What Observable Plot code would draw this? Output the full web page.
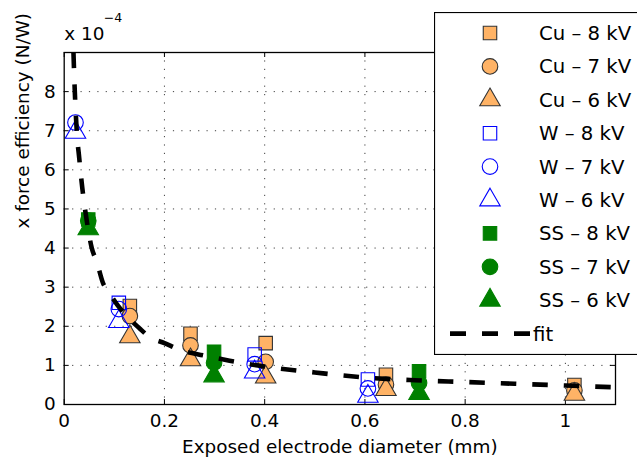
<!DOCTYPE html>
<html><head><meta charset="utf-8">
<script src="https://cdn.jsdelivr.net/npm/d3@7"></script>
<script src="https://cdn.jsdelivr.net/npm/@observablehq/plot@0.6"></script>
<style>
body{margin:0;overflow:hidden;background:#fff;}
#wrap{position:relative;width:637px;height:462px;overflow:hidden;font-family:"DejaVu Sans",sans-serif;}
#legend{position:absolute;left:434px;top:12px;}
</style></head><body><div id="wrap"></div>
<script>
// ---- data ----
const xTicks = [0, 0.2, 0.4, 0.6, 0.8, 1];
const yTicks = [0, 1, 2, 3, 4, 5, 6, 7, 8];
const xTickLabels = ["0", "0.2", "0.4", "0.6", "0.8", "1"];
const yTickLabels = ["0", "1", "2", "3", "4", "5", "6", "7", "8"];
const xLabel = "Exposed electrode diameter (mm)";
const yLabel = "x force efficiency (N/W)";
const expBase = "x 10";
const expPower = "\u22124";

const cuX = [0.131, 0.252, 0.402, 0.642, 1.018];
const cu8 = [2.52, 1.81, 1.57, 0.76, 0.50];
const cu7 = [2.26, 1.51, 1.09, 0.51, 0.36];
const cu6 = [1.73, 1.14, 0.70, 0.38, 0.26];

const wX = [0.0225, 0.109, 0.380, 0.606];
const w8 = [null, 2.60, 1.28, 0.64];
const w7 = [7.21, 2.44, 1.03, 0.41];
const w6 = [6.96, 2.12, 0.83, 0.21];

const ssX = [0.048, 0.299, 0.708];
const ss8 = [4.73, 1.35, 0.85];
const ss7 = [4.70, 1.07, 0.55];
const ss6 = [4.49, 0.73, 0.28];

const fitX = [0.0185, 0.02, 0.025, 0.03, 0.036, 0.045, 0.055, 0.065, 0.077, 0.09, 0.106, 0.125, 0.15, 0.17, 0.2, 0.23, 0.28, 0.33, 0.4, 0.5, 0.6, 0.7, 0.8, 0.9, 1.0, 1.1];
const fitY = [9.0, 8.4, 7.0, 6.3, 5.55, 4.7, 4.0, 3.65, 3.12, 2.85, 2.55, 2.26, 1.95, 1.73, 1.57, 1.4, 1.25, 1.12, 0.97, 0.82, 0.69, 0.62, 0.575, 0.53, 0.485, 0.44];

const legendNames = ["Cu \u2013 8 kV", "Cu \u2013 7 kV", "Cu \u2013 6 kV", "W \u2013 8 kV", "W \u2013 7 kV", "W \u2013 6 kV", "SS \u2013 8 kV", "SS \u2013 7 kV", "SS \u2013 6 kV", "fit"];

// ---- styles ----
const cuFill = "#ffb366", cuStroke = "#333333";
const wStroke = "#0000ff";
const ssColor = "#008000";
const FONT = "DejaVu Sans";
const sizes = {square: 7.6, circle: 7.8, triangle: 7.6};
const styleOf = [
  {sym: "square", fill: cuFill, stroke: cuStroke},
  {sym: "circle", fill: cuFill, stroke: cuStroke},
  {sym: "triangle", fill: cuFill, stroke: cuStroke},
  {sym: "square", fill: "none", stroke: wStroke},
  {sym: "circle", fill: "none", stroke: wStroke},
  {sym: "triangle", fill: "none", stroke: wStroke},
  {sym: "square", fill: ssColor, stroke: ssColor},
  {sym: "circle", fill: ssColor, stroke: ssColor},
  {sym: "triangle", fill: ssColor, stroke: ssColor}
];

const rows = (xs, ys) => xs.map((x, i) => ({x, y: ys[i]})).filter(d => d.y != null);
const seriesData = [
  rows(cuX, cu8), rows(cuX, cu7), rows(cuX, cu6),
  rows(wX, w8), rows(wX, w7), rows(wX, w6),
  rows(ssX, ss8), rows(ssX, ss7), rows(ssX, ss6)
];
const fitData = fitX.map((x, i) => ({x, y: fitY[i]}));

const W = 637, H = 462, mL = 63.7, mR = 22, mT = 52, mB = 58;
const fw = W - mL - mR, fh = H - mT - mB;

const dotMarks = seriesData.map((data, k) => {
  const s = styleOf[k];
  return Plot.dot(data, {x: "x", y: "y", symbol: s.sym, r: sizes[s.sym], fill: s.fill, stroke: s.stroke, strokeWidth: 1.1});
});

const chart = Plot.plot({
  width: W, height: H,
  marginLeft: mL, marginRight: mR, marginTop: mT, marginBottom: mB,
  style: {background: "#fff", fontFamily: FONT},
  x: {domain: [0, 1.1], axis: null},
  y: {domain: [0, 9], axis: null},
  marks: [
    // dotted grid
    Plot.ruleX(xTicks.slice(1), {stroke: "#000", strokeOpacity: 0.75, strokeDasharray: "1.2,7.2"}),
    Plot.ruleY(yTicks.slice(1), {stroke: "#000", strokeOpacity: 0.75, strokeDasharray: "1.2,7.2"}),
    // inward ticks
    Plot.ruleX(xTicks, {insetTop: fh - 5, stroke: "#000"}),
    Plot.ruleX(xTicks, {insetBottom: fh - 5, stroke: "#000"}),
    Plot.ruleY(yTicks, {insetRight: fw - 5, stroke: "#000"}),
    Plot.ruleY(yTicks, {insetLeft: fw - 5, stroke: "#000"}),
    ...dotMarks,
    Plot.line(fitData, {x: "x", y: "y", curve: "monotone-x", stroke: "#000", strokeWidth: 4.6, strokeDasharray: "15.5,16", strokeLinecap: "butt", clip: true}),
    Plot.frame({stroke: "#000", strokeWidth: 1.3}),
    // tick labels
    Plot.text(xTicks, {x: d => d, frameAnchor: "bottom", dy: 22, text: (d, i) => xTickLabels[i], fontSize: 18.4, fill: "#000"}),
    Plot.text(yTicks, {y: d => d, frameAnchor: "left", dx: -8.5, textAnchor: "end", text: (d, i) => yTickLabels[i], fontSize: 18.4, fill: "#000"}),
    // axis titles
    Plot.text([xLabel], {frameAnchor: "bottom", dy: 48, fontSize: 18.4, fill: "#000"}),
    Plot.text([yLabel], {frameAnchor: "left", dx: -41, rotate: -90, fontSize: 18.4, fill: "#000"}),
    Plot.text([expBase], {frameAnchor: "top-left", textAnchor: "start", lineAnchor: "bottom", dy: -13, fontSize: 18.4, fill: "#000"}),
    Plot.text([expPower], {frameAnchor: "top-left", textAnchor: "start", lineAnchor: "bottom", dx: 39.6, dy: -31, fontSize: 12.5, fill: "#000"})
  ]
});

const wrap = document.getElementById("wrap");
wrap.appendChild(chart);

// ---- legend (overlay, clipped by the window on the right) ----
const lw = 240, lh = 343;
const lsvg = d3.create("svg").attr("id", "legend").attr("width", lw).attr("height", lh)
  .style("position", "absolute").style("left", "434px").style("top", "12px");
lsvg.append("rect").attr("x", 0.5).attr("y", 0.5).attr("width", lw).attr("height", lh - 1)
  .attr("fill", "#fff").attr("stroke", "#000").attr("stroke-width", 1.2);
const symType = {square: d3.symbolSquare, circle: d3.symbolCircle, triangle: d3.symbolTriangle};
legendNames.forEach((name, i) => {
  const cy = 21 + i * 33.4;
  if (i < 9) {
    const s = styleOf[i];
    const r = sizes[s.sym];
    lsvg.append("path").attr("transform", `translate(56,${cy})`)
      .attr("d", d3.symbol(symType[s.sym], Math.PI * r * r)())
      .attr("fill", s.fill).attr("stroke", s.stroke).attr("stroke-width", 1.1);
  } else {
    lsvg.append("line").attr("x1", 16).attr("x2", 96).attr("y1", cy).attr("y2", cy)
      .attr("stroke", "#000").attr("stroke-width", 4.6).attr("stroke-dasharray", "16,16");
  }
  lsvg.append("text").attr("x", i < 9 ? 105 : 99).attr("y", cy).attr("dy", "0.36em")
    .attr("font-family", FONT).attr("font-size", 19.7).attr("fill", "#000").text(name);
});
wrap.appendChild(lsvg.node());
</script>
</body></html>
